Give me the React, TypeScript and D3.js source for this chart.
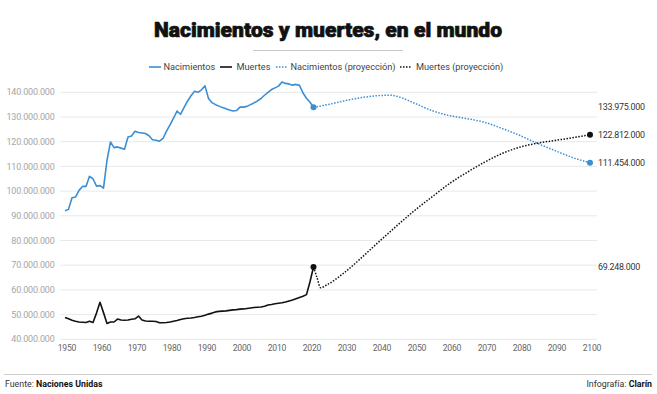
import React from "react";
import * as d3 from "d3";

// Nacimientos y muertes en el mundo (Naciones Unidas), valores en personas
const years = d3.range(1950, 2022);

const birthsM = [
  92.0, 92.6, 97.3, 97.6, 100.3, 101.9, 101.9, 106.0, 105.0, 102.0,
  102.2, 101.2, 112.5, 119.9, 117.6, 117.9, 117.4, 116.9, 121.9, 122.3,
  124.2, 123.7, 123.5, 123.3, 122.4, 120.8, 120.6, 120.2, 121.3, 124.3,
  126.8, 129.5, 132.4, 131.1, 133.8, 136.4, 138.6, 140.4, 140.0, 141.0,
  142.6, 137.5, 135.8, 135.0, 134.4, 133.8, 133.3, 132.8, 132.4, 132.6,
  134.0, 134.0, 134.3, 135.0, 135.7, 136.5, 137.5, 138.8, 140.0, 141.1,
  141.8, 142.5, 144.2, 143.6, 143.4, 142.9, 143.2, 142.8, 139.7, 137.6,
  136.0, 133.975,
];

const deathsM = [
  48.8, 48.3, 47.7, 47.3, 47.0, 46.9, 46.8, 47.3, 46.8, 50.6,
  55.0, 50.8, 46.4, 47.0, 47.0, 48.2, 47.8, 47.7, 47.8, 48.1,
  48.3, 49.4, 47.8, 47.4, 47.3, 47.3, 47.2, 46.7, 46.7, 46.8,
  47.0, 47.3, 47.6, 48.0, 48.3, 48.5, 48.6, 48.8, 49.1, 49.3,
  49.7, 50.2, 50.6, 51.1, 51.3, 51.4, 51.5, 51.7, 51.9, 52.0,
  52.2, 52.3, 52.5, 52.7, 52.9, 53.0, 53.1, 53.4, 53.9, 54.1,
  54.4, 54.6, 54.8, 55.1, 55.5, 55.9, 56.4, 56.9, 57.4, 58.1,
  63.3, 69.248,
];

const projBirthYears = [2021, 2025, 2030, 2035, 2040, 2043, 2045, 2050, 2055, 2060, 2065, 2070, 2075, 2080, 2085, 2090, 2095, 2100];
const projBirthsM = [133.975, 135.0, 136.6, 137.9, 138.7, 138.8, 138.3, 135.5, 132.5, 130.5, 129.3, 127.8, 125.3, 122.5, 119.3, 116.4, 113.6, 111.454];

const projDeathYears = [2021, 2022, 2023, 2025, 2030, 2035, 2040, 2045, 2050, 2055, 2060, 2065, 2070, 2075, 2080, 2085, 2090, 2095, 2100];
const projDeathsM = [69.248, 65.0, 60.9, 62.2, 67.2, 73.4, 79.9, 86.2, 92.3, 97.8, 103.2, 107.7, 111.8, 115.3, 117.8, 119.4, 120.5, 121.6, 122.812];

const yTicks = [40e6, 50e6, 60e6, 70e6, 80e6, 90e6, 100e6, 110e6, 120e6, 130e6, 140e6];
const xTicks = d3.range(1950, 2101, 10);

const BLUE = "#3b8ed4";
const BLACK = "#111";
const FONT = "Roboto, 'Noto Sans', sans-serif";

type Pt = { year: number; value: number };
const toPts = (ys: number[], vs: number[]): Pt[] => ys.map((yr, i) => ({ year: yr, value: vs[i] * 1e6 }));

const births = toPts(years, birthsM);
const deaths = toPts(years, deathsM);
const projBirths = toPts(projBirthYears, projBirthsM);
const projDeaths = toPts(projDeathYears, projDeathsM);

const fmt = (v: number) => d3.format(",")(Math.round(v)).replace(/,/g, ".");

export default function App() {
  const W = 657;
  const H = 394;

  const x = d3.scaleLinear().domain([1950, 2100]).range([65, 590]);
  const y = d3.scaleLinear().domain([40e6, 140e6]).range([339.3, 92.3]);

  const line = d3.line<Pt>().x(d => x(d.year)).y(d => y(d.value));
  const smooth = d3.line<Pt>().x(d => x(d.year)).y(d => y(d.value)).curve(d3.curveMonotoneX);

  const lastB = births[births.length - 1];
  const lastD = deaths[deaths.length - 1];
  const endB = projBirths[projBirths.length - 1];
  const endD = projDeaths[projDeaths.length - 1];

  const labels = [lastB, endD, endB, lastD];

  const legend = [
    { x1: 149, x2: 161, tx: 163.5, color: BLUE, dash: "", text: "Nacimientos" },
    { x1: 220, x2: 232, tx: 236.5, color: BLACK, dash: "", text: "Muertes" },
    { x1: 276, x2: 287, tx: 290.5, color: BLUE, dash: "1.5,1.5", text: "Nacimientos (proyección)" },
    { x1: 400, x2: 412, tx: 416, color: BLACK, dash: "1.5,1.5", text: "Muertes (proyección)" },
  ];

  return (
    <svg
      width={W}
      height={H}
      style={{ position: "absolute", left: 0, top: 0, background: "#fff" }}
      fontFamily={FONT}
    >
      <text
        x={328}
        y={37}
        textAnchor="middle"
        fontSize={21}
        fontWeight={900}
        fill="#111"
        stroke="#111"
        strokeWidth={0.7}
        textLength={348}
        lengthAdjust="spacingAndGlyphs"
      >
        Nacimientos y muertes, en el mundo
      </text>
      <line x1={253} x2={403} y1={50.5} y2={50.5} stroke="#c8c8c8" strokeWidth={1} />

      {legend.map(l => (
        <g key={l.text}>
          <line x1={l.x1} x2={l.x2} y1={67} y2={67} stroke={l.color} strokeWidth={1.6} strokeDasharray={l.dash || undefined} />
          <text x={l.tx} y={70.3} fontSize={9.2} fill="#444">{l.text}</text>
        </g>
      ))}

      {yTicks.map(t => (
        <g key={t}>
          <line x1={60} x2={597} y1={y(t)} y2={y(t)} stroke="#e8e8e8" strokeWidth={1} />
          <text x={54.5} y={y(t)} dy="0.35em" textAnchor="end" fontSize={9} fill="#a6a6a6" letterSpacing={-0.2}>
            {fmt(t)}
          </text>
        </g>
      ))}

      {xTicks.map(t => (
        <text key={t} x={x(t) + 2} y={351} textAnchor="middle" fontSize={8.6} fill="#666" letterSpacing={-0.2}>
          {t}
        </text>
      ))}

      <path d={smooth(projBirths) || ""} fill="none" stroke={BLUE} strokeWidth={1.5} strokeDasharray="1.5,1.5" />
      <path d={smooth(projDeaths) || ""} fill="none" stroke={BLACK} strokeWidth={1.5} strokeDasharray="1.5,1.5" />
      <path d={line(births) || ""} fill="none" stroke={BLUE} strokeWidth={1.6} strokeLinejoin="round" />
      <path d={line(deaths) || ""} fill="none" stroke={BLACK} strokeWidth={1.6} strokeLinejoin="round" />

      <circle cx={x(lastB.year)} cy={y(lastB.value)} r={3} fill={BLUE} />
      <circle cx={x(lastD.year)} cy={y(lastD.value)} r={3} fill={BLACK} />
      <circle cx={x(endB.year)} cy={y(endB.value)} r={3} fill={BLUE} />
      <circle cx={x(endD.year)} cy={y(endD.value)} r={3} fill={BLACK} />

      {labels.map(p => (
        <text key={p.year + "-" + p.value} x={598} y={y(p.value)} dy="0.35em" fontSize={8.9} fill="#333" letterSpacing={-0.25}>
          {fmt(p.value)}
        </text>
      ))}

      <line x1={4} x2={652} y1={374.5} y2={374.5} stroke="#cfcfcf" strokeWidth={1} />
      <text x={5} y={387} fontSize={8.8} fill="#333">
        Fuente: <tspan fontWeight={700} fill="#111">Naciones Unidas</tspan>
      </text>
      <text x={652} y={387} fontSize={8.8} fill="#333" textAnchor="end">
        Infografía: <tspan fontWeight={700} fill="#111">Clarín</tspan>
      </text>
    </svg>
  );
}
